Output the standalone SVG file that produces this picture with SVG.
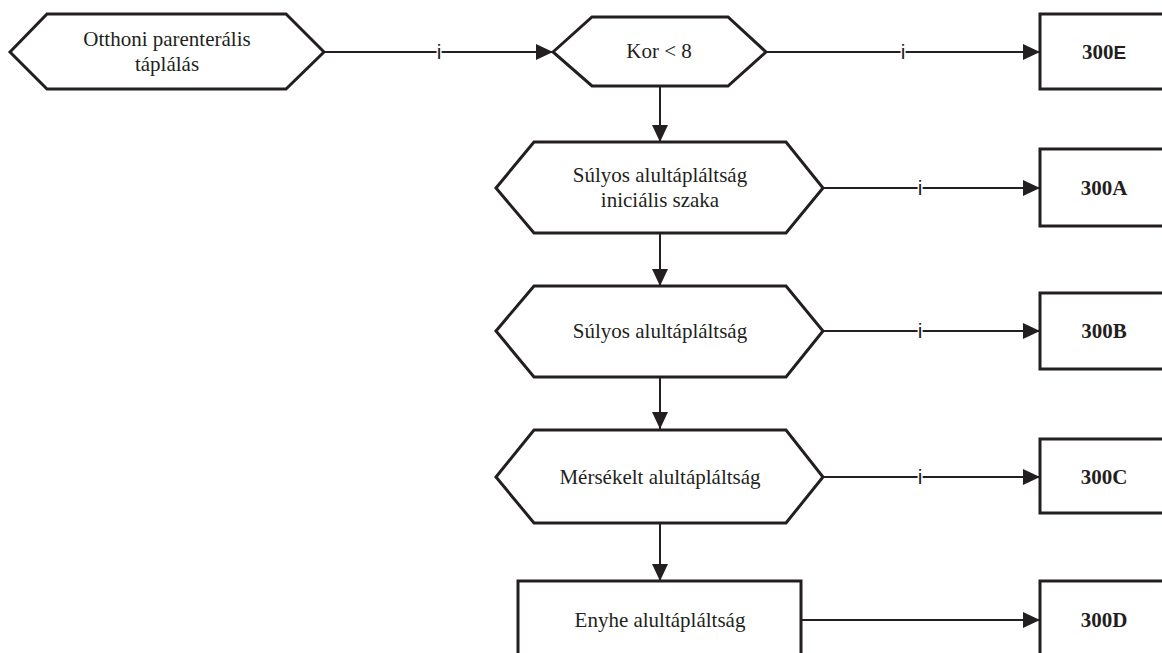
<svg xmlns="http://www.w3.org/2000/svg" width="1162" height="653" viewBox="0 0 1162 653">
<defs>
<marker id="ah" markerUnits="userSpaceOnUse" markerWidth="18" markerHeight="16" refX="17" refY="8" orient="auto">
<path d="M0,0 L17,8 L0,16 Z" fill="#231f20"/>
</marker>
<style>
.shape{fill:#fff;stroke:#231f20;stroke-width:3;stroke-linejoin:miter}
.conn{fill:none;stroke:#231f20;stroke-width:2;marker-end:url(#ah)}
.t{font-family:"Liberation Serif","Times New Roman",serif;font-size:21px;fill:#231f20;text-anchor:middle}
.b{font-family:"Liberation Serif","Times New Roman",serif;font-size:21px;font-weight:bold;fill:#231f20;text-anchor:middle}
.s{font-family:"Liberation Sans",Arial,sans-serif;font-size:19px;font-weight:bold}
.i{font-family:"Liberation Sans",Arial,sans-serif;font-size:21px;fill:#231f20;text-anchor:middle;stroke:#fff;stroke-width:3;paint-order:stroke}
</style>
</defs>
<rect width="1162" height="653" fill="#fff"/>
<g id="connectors">
<line class="conn" x1="324" y1="52" x2="553" y2="52"/>
<line class="conn" x1="766" y1="52" x2="1040" y2="52"/>
<line class="conn" x1="660" y1="86" x2="660" y2="142"/>
<line class="conn" x1="823" y1="188" x2="1040" y2="188"/>
<line class="conn" x1="660" y1="233" x2="660" y2="286"/>
<line class="conn" x1="823" y1="331" x2="1040" y2="331"/>
<line class="conn" x1="660" y1="377" x2="660" y2="429"/>
<line class="conn" x1="823" y1="477" x2="1040" y2="477"/>
<line class="conn" x1="660" y1="523" x2="660" y2="581"/>
<line class="conn" x1="801" y1="620" x2="1040" y2="620"/>
<text class="i" x="439" y="59">i</text>
<text class="i" x="903" y="59">i</text>
<text class="i" x="920" y="195">i</text>
<text class="i" x="920" y="338">i</text>
<text class="i" x="920" y="484">i</text>
</g>
<g id="n-otthoni">
<polygon class="shape" points="10,52 47,14 286,14 324,52 286,89 47,89"/>
<text class="t" x="167" y="46">Otthoni parenterális</text>
<text class="t" x="167" y="71">táplálás</text>
</g>
<g id="n-kor">
<polygon class="shape" points="553,52 592,17 728,17 766,52 728,86 592,86"/>
<text class="t" x="659" y="58">Kor &lt; 8</text>
</g>
<g id="n-300E">
<rect class="shape" x="1040" y="14" width="130" height="75"/>
<text class="b" x="1104" y="59">300<tspan class="s">E</tspan></text>
</g>
<g id="n-sulyos-init">
<polygon class="shape" points="496,188 534,142 786,142 823,188 786,233 534,233"/>
<text class="t" x="660" y="182">Súlyos alultápláltság</text>
<text class="t" x="660" y="207">iniciális szaka</text>
</g>
<g id="n-300A">
<rect class="shape" x="1040" y="149" width="130" height="77"/>
<text class="b" x="1104" y="195">300A</text>
</g>
<g id="n-sulyos">
<polygon class="shape" points="496,331 534,286 786,286 823,331 786,377 534,377"/>
<text class="t" x="660" y="338">Súlyos alultápláltság</text>
</g>
<g id="n-300B">
<rect class="shape" x="1040" y="293" width="130" height="76"/>
<text class="b" x="1104" y="338">300B</text>
</g>
<g id="n-merseklet">
<polygon class="shape" points="496,477 534,430 786,430 823,477 786,523 534,523"/>
<text class="t" x="660" y="484">Mérsékelt alultápláltság</text>
</g>
<g id="n-300C">
<rect class="shape" x="1040" y="439" width="130" height="74"/>
<text class="b" x="1104" y="484">300C</text>
</g>
<g id="n-enyhe">
<rect class="shape" x="518" y="581" width="283" height="90"/>
<text class="t" x="660" y="627">Enyhe alultápláltság</text>
</g>
<g id="n-300D">
<rect class="shape" x="1040" y="581" width="130" height="90"/>
<text class="b" x="1104" y="627">300D</text>
</g>
</svg>
